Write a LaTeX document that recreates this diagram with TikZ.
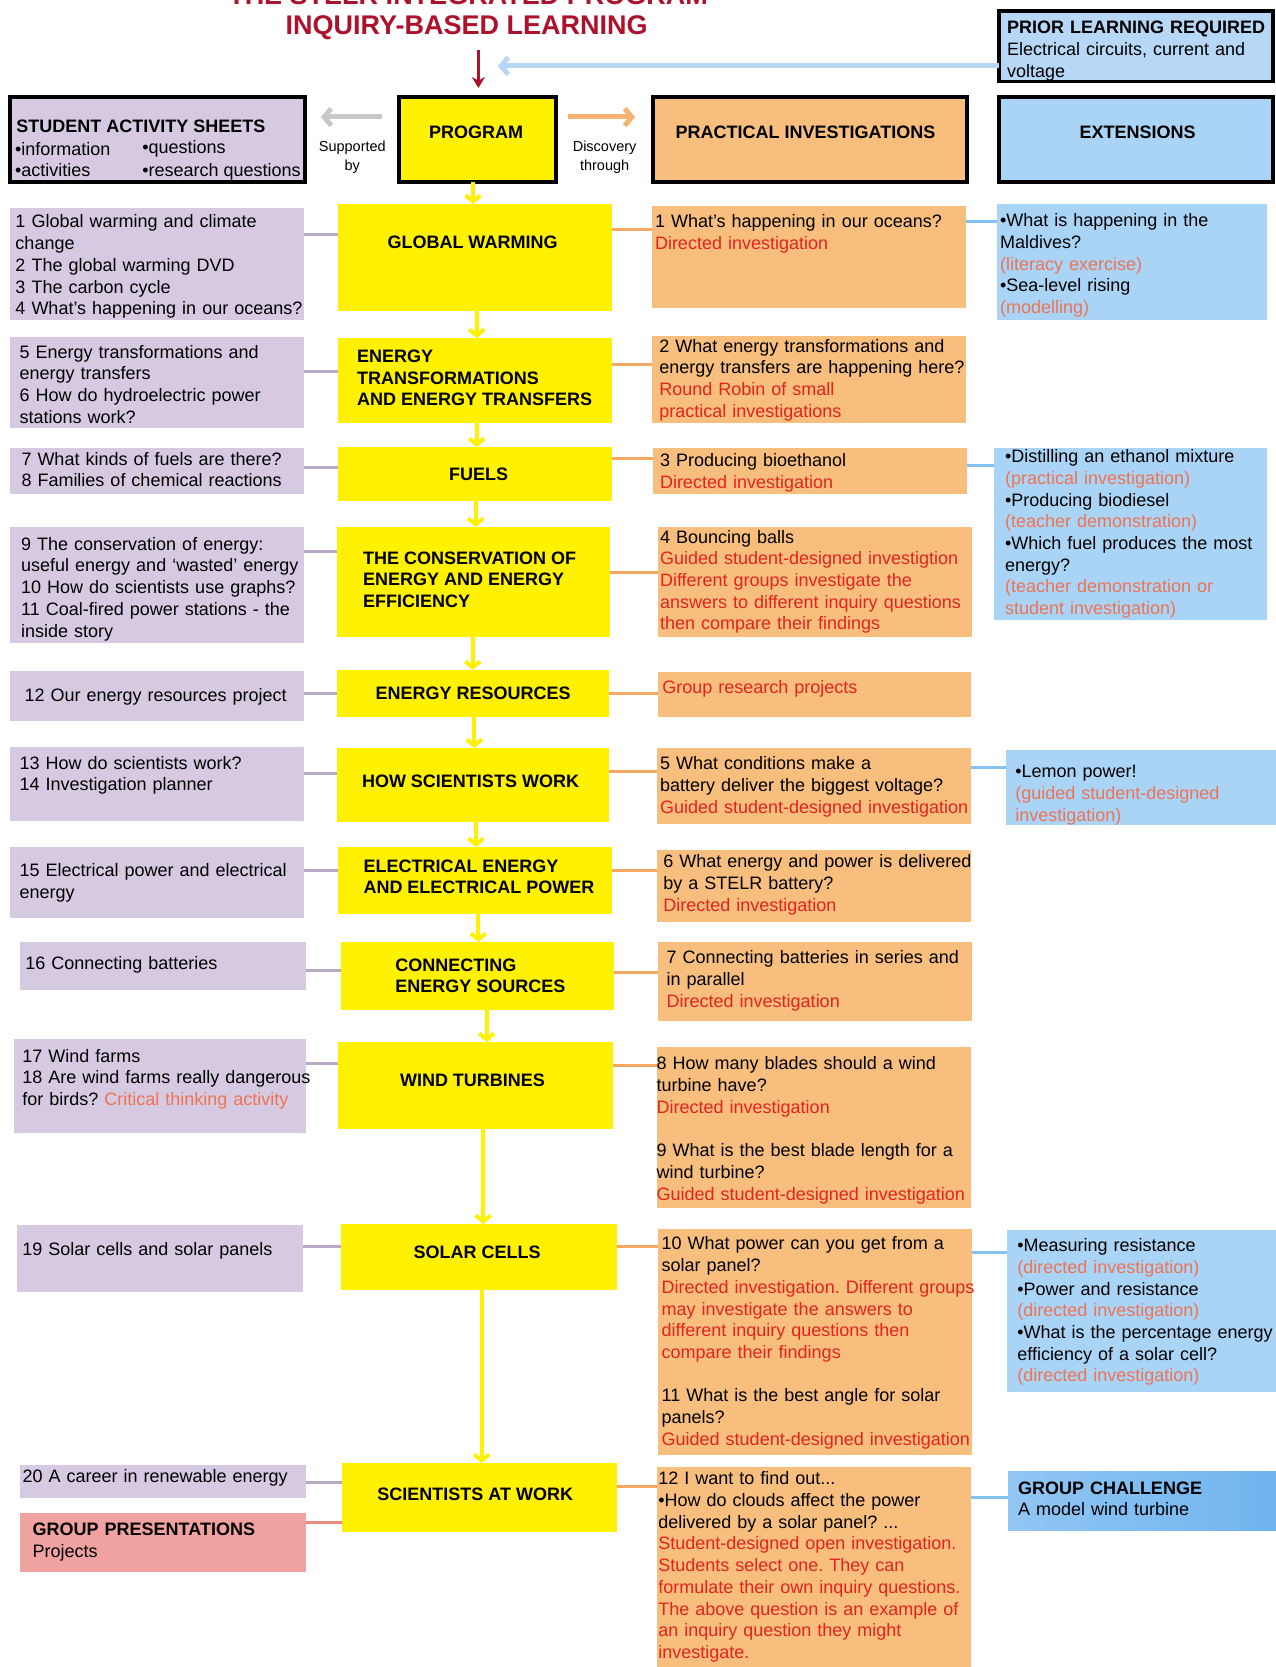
\documentclass[tikz,border=0pt]{standalone}
\usepackage{fontspec}
\setmainfont{Liberation Sans}
\usetikzlibrary{arrows.meta,fit}
\definecolor{lav}{RGB}{214,202,226}
\definecolor{lavline}{RGB}{182,170,198}
\definecolor{yel}{RGB}{255,241,0}
\definecolor{org}{RGB}{247,190,126}
\definecolor{orgline}{RGB}{245,168,98}
\definecolor{blu}{RGB}{170,212,246}
\definecolor{bluline}{RGB}{132,192,240}
\definecolor{bluleft}{RGB}{145,198,244}
\definecolor{bludark}{RGB}{112,180,238}
\definecolor{bluprior}{RGB}{182,216,246}
\definecolor{pinkbox}{RGB}{240,162,160}
\definecolor{pinkline}{RGB}{236,138,124}
\definecolor{redtxt}{RGB}{228,35,28}
\definecolor{saltxt}{RGB}{238,115,85}
\definecolor{titlered}{RGB}{172,18,44}
\definecolor{grayarrow}{RGB}{200,200,200}
\definecolor{orgarrow}{RGB}{246,178,112}
\newcommand{\rtx}[1]{\textcolor{redtxt}{#1}}
\newcommand{\stx}[1]{\textcolor{saltxt}{#1}}
\frenchspacing
\begin{document}
\begin{tikzpicture}[x=1pt,y=-1pt,
 bx/.style={inner sep=0pt,outer sep=0pt},
 hbx/.style={bx,draw=black,line width=3.5pt},
 tx/.style={anchor=north west,inner sep=0pt,outer sep=0pt,align=left,text width=330pt,font=\fontsize{18}{21.7}\selectfont\frenchspacing},
 pt/.style={anchor=base west,inner sep=0pt,outer sep=0pt,font=\fontsize{18}{21.7}\selectfont},
 bt/.style={inner sep=0pt,outer sep=0pt,align=left,font=\fontsize{18}{21.4}\selectfont\bfseries},
 lcon/.style={draw=lavline,line width=3pt},
 ocon/.style={draw=orgline,line width=3pt},
 bcon/.style={draw=bluline,line width=3pt},
 yarr/.style={draw=yel,line width=4pt,-{Straight Barb[length=6pt,width=15pt]}}
]
\useasboundingbox (0,0) rectangle (1276,1667);
\fill[white] (0,0) rectangle (1276,1667);

% ---------- title ----------
\node[anchor=base,inner sep=0pt,text=titlered,font=\fontsize{27}{30}\selectfont\bfseries] (title0) at (468,4.5) {THE STELR INTEGRATED PROGRAM};
\node[anchor=base,inner sep=0pt,text=titlered,font=\fontsize{27}{30}\selectfont\bfseries] (title) at (466.6,35) {INQUIRY-BASED LEARNING};

% ---------- header boxes ----------
\node[hbx,fill=lav,fit={(10,97)(305,182)}] (sas) {};
\node[hbx,fill=yel,fit={(399,97)(556,182)}] (prog) {};
\node[hbx,fill=org,fit={(653,97)(967,182)}] (prac) {};
\node[hbx,fill=blu,fit={(999,97)(1273,182)}] (ext) {};
\node[hbx,fill=bluprior,fit={(999,11)(1273,81.5)}] (prior) {};

% ---------- left column ----------
\node[bx,fill=lav,fit={(10,208)(304,320)}] (l1) {};
\node[bx,fill=lav,fit={(10,337)(304,428)}] (l2) {};
\node[bx,fill=lav,fit={(10,448)(304,494)}] (l3) {};
\node[bx,fill=lav,fit={(10,527)(304,643)}] (l4) {};
\node[bx,fill=lav,fit={(10,671)(304,721)}] (l5) {};
\node[bx,fill=lav,fit={(10,747)(304,821)}] (l6) {};
\node[bx,fill=lav,fit={(10,847)(304,918)}] (l7) {};
\node[bx,fill=lav,fit={(19.6,942)(306,990)}] (l8) {};
\node[bx,fill=lav,fit={(13.5,1039)(306,1133)}] (l9) {};
\node[bx,fill=lav,fit={(17,1225)(303,1292)}] (l10) {};
\node[bx,fill=lav,fit={(20.4,1465)(306,1498)}] (l11) {};
\node[bx,fill=pinkbox,fit={(20.4,1513)(306,1572)}] (gp) {};

% ---------- program column ----------
\node[bx,fill=yel,fit={(338,204)(612,311)}] (y1) {};
\node[bx,fill=yel,fit={(338,338)(612,423)}] (y2) {};
\node[bx,fill=yel,fit={(338,447)(612,501)}] (y3) {};
\node[bx,fill=yel,fit={(337,527)(610,637)}] (y4) {};
\node[bx,fill=yel,fit={(337,670)(609,717)}] (y5) {};
\node[bx,fill=yel,fit={(337,748)(609,822)}] (y6) {};
\node[bx,fill=yel,fit={(338,847)(612,914)}] (y7) {};
\node[bx,fill=yel,fit={(341,942)(614,1010)}] (y8) {};
\node[bx,fill=yel,fit={(338,1042)(613,1129)}] (y9) {};
\node[bx,fill=yel,fit={(341,1224)(617,1290)}] (y10) {};
\node[bx,fill=yel,fit={(342,1463)(617,1532)}] (y11) {};

% ---------- practical column ----------
\node[bx,fill=org,fit={(652,206)(966,308)}] (o1) {};
\node[bx,fill=org,fit={(652,336)(966,423)}] (o2) {};
\node[bx,fill=org,fit={(653,448)(967,494)}] (o3) {};
\node[bx,fill=org,fit={(658,527)(972,637)}] (o4) {};
\node[bx,fill=org,fit={(658,672)(971,717)}] (o5) {};
\node[bx,fill=org,fit={(657,748)(971,824)}] (o6) {};
\node[bx,fill=org,fit={(657,850)(971,922)}] (o7) {};
\node[bx,fill=org,fit={(658,942)(972,1021)}] (o8) {};
\node[bx,fill=org,fit={(657,1047)(971,1208)}] (o9) {};
\node[bx,fill=org,fit={(658,1229)(972,1455)}] (o10) {};
\node[bx,fill=org,fit={(657,1467)(971,1667)}] (o11) {};

% ---------- extensions column ----------
\node[bx,fill=blu,fit={(997,204)(1267,320)}] (b1) {};
\node[bx,fill=blu,fit={(994,448)(1267,620)}] (b2) {};
\node[bx,fill=blu,fit={(1006,750)(1276,825)}] (b3) {};
\node[bx,fill=blu,fit={(1007,1230)(1276,1392)}] (b4) {};
\node[bx,left color=bluleft,right color=bludark,fit={(1008,1471)(1276,1530)}] (b5) {};

% ---------- connectors ----------
\draw[lcon] (l1.east |- 0,234) -- (y1.west |- 0,234);
\draw[lcon] (l2.east |- 0,371) -- (y2.west |- 0,371);
\draw[lcon] (l3.east |- 0,467) -- (y3.west |- 0,467);
\draw[lcon] (l4.east |- 0,551.5) -- (y4.west |- 0,551.5);
\draw[lcon] (l5.east |- 0,693) -- (y5.west |- 0,693);
\draw[lcon] (l6.east |- 0,773.5) -- (y6.west |- 0,773.5);
\draw[lcon] (l7.east |- 0,870) -- (y7.west |- 0,870);
\draw[lcon] (l8.east |- 0,970) -- (y8.west |- 0,970);
\draw[lcon] (l9.east |- 0,1063) -- (y9.west |- 0,1063);
\draw[lcon] (l10.east |- 0,1246) -- (y10.west |- 0,1246);
\draw[lcon] (l11.east |- 0,1482) -- (y11.west |- 0,1482);
\draw[draw=pinkline,line width=3pt] (gp.east |- 0,1522) -- (y11.west |- 0,1522);

\draw[ocon] (y1.east |- 0,229) -- (o1.west |- 0,229);
\draw[ocon] (y2.east |- 0,364) -- (o2.west |- 0,364);
\draw[ocon] (y3.east |- 0,458) -- (o3.west |- 0,458);
\draw[ocon] (y4.east |- 0,572) -- (o4.west |- 0,572);
\draw[ocon] (y5.east |- 0,693) -- (o5.west |- 0,693);
\draw[ocon] (y6.east |- 0,771) -- (o6.west |- 0,771);
\draw[ocon] (y7.east |- 0,870) -- (o7.west |- 0,870);
\draw[ocon] (y8.east |- 0,972) -- (o8.west |- 0,972);
\draw[ocon] (y9.east |- 0,1065) -- (o9.west |- 0,1065);
\draw[ocon] (y10.east |- 0,1246) -- (o10.west |- 0,1246);
\draw[ocon] (y11.east |- 0,1486) -- (o11.west |- 0,1486);

\draw[bcon] (o1.east |- 0,221.5) -- (b1.west |- 0,221.5);
\draw[bcon] (o3.east |- 0,465.5) -- (b2.west |- 0,465.5);
\draw[bcon] (o6.east |- 0,767.5) -- (b3.west |- 0,767.5);
\draw[bcon] (o10.east |- 0,1252) -- (b4.west |- 0,1252);
\draw[bcon] (o11.east |- 0,1497) -- (b5.west |- 0,1497);

% ---------- program flow arrows ----------
\draw[yarr] (prog.south -| 473,0) -- (y1.north -| 473,0);
\draw[yarr] (y1.south -| 476.7,0) -- (y2.north -| 476.7,0);
\draw[yarr] (y2.south -| 476.7,0) -- (y3.north -| 476.7,0);
\draw[yarr] (y3.south -| 475.7,0) -- (y4.north -| 475.7,0);
\draw[yarr] (y4.south -| 472.7,0) -- (y5.north -| 472.7,0);
\draw[yarr] (y5.south -| 474.3,0) -- (y6.north -| 474.3,0);
\draw[yarr] (y6.south -| 476,0) -- (y7.north -| 476,0);
\draw[yarr] (y7.south -| 478.3,0) -- (y8.north -| 478.3,0);
\draw[yarr] (y8.south -| 486.7,0) -- (y9.north -| 486.7,0);
\draw[yarr] (y9.south -| 483.3,0) -- (y10.north -| 483.3,0);
\draw[yarr] (y10.south -| 481.7,0) -- (y11.north -| 481.7,0);

% ---------- header arrows ----------
\coordinate (ga1) at (382,117);
\coordinate (ga2) at (321,117);
\coordinate (oa1) at (568,117);
\coordinate (oa2) at (635,117);
\coordinate (pa) at (498,66);
\coordinate (ra1) at (478.4,50);
\coordinate (ra2) at (478.4,88);
\draw[draw=grayarrow,line width=5pt,-{Straight Barb[length=7pt,width=17pt]}] (ga1) -- (ga2);
\draw[draw=orgarrow,line width=5pt,-{Straight Barb[length=7pt,width=17pt]}] (oa1) -- (oa2);
\draw[draw=bluprior,line width=5pt,-{Straight Barb[length=7pt,width=17pt]}] (prior.west |- pa) -- (pa);
\draw[draw=titlered,line width=3.5pt,-{Stealth[length=11pt,width=13pt]}] (ra1) -- (ra2);

% ---------- header texts ----------
\node[bt,anchor=west] (sast) at (16.3,126.7) {STUDENT ACTIVITY SHEETS};
\node[pt] (sas1) at (15,155.5) {•information};
\node[pt] (sas2) at (142.4,153.5) {•questions};
\node[pt] (sas3) at (15,176.5) {•activities};
\node[pt] (sas4) at (142.4,176.5) {•research questions};
\node[bt] (progt) at (476,132.7) {PROGRAM};
\node[bt] (pract) at (805.5,132.7) {PRACTICAL INVESTIGATIONS};
\node[bt] (extt) at (1137.5,132.7) {EXTENSIONS};
\node[tx] (priort) at (1007,18.5) {\strut\textbf{PRIOR LEARNING REQUIRED}\\ Electrical circuits, current and\\ voltage};
\node[inner sep=0pt,align=center,font=\fontsize{14.5}{19.3}\selectfont] (supp) at (352.3,157) {Supported\\ by};
\node[inner sep=0pt,align=center,font=\fontsize{14.5}{19.3}\selectfont] (disc) at (604.6,157) {Discovery\\ through};

% ---------- left texts ----------
\node[tx] (l1t) at (15.5,212.8) {\strut 1 Global warming and climate\\ change\\ 2 The global warming DVD\\ 3 The carbon cycle\\ 4 What’s happening in our oceans?};
\node[tx] (l2t) at (19.6,343.1) {\strut 5 Energy transformations and\\ energy transfers\\ 6 How do hydroelectric power\\ stations work?};
\node[tx] (l3t) at (21.5,450.1) {\strut 7 What kinds of fuels are there?\\ 8 Families of chemical reactions};
\node[tx] (l4t) at (21.2,535.1) {\strut 9 The conservation of energy:\\ useful energy and ‘wasted’ energy\\ 10 How do scientists use graphs?\\ 11 Coal-fired power stations - the\\ inside story};
\node[tx] (l5t) at (24.5,686.5) {\strut 12 Our energy resources project};
\node[tx] (l6t) at (19.6,754.1) {\strut 13 How do scientists work?\\ 14 Investigation planner};
\node[tx] (l7t) at (19.6,861.5) {\strut 15 Electrical power and electrical\\ energy};
\node[tx] (l8t) at (25.3,954.1) {\strut 16 Connecting batteries};
\node[tx] (l9t) at (22.4,1046.8) {\strut 17 Wind farms\\ 18 Are wind farms really dangerous\\ for birds? \stx{Critical thinking activity}};
\node[tx] (l10t) at (22.4,1239.8) {\strut 19 Solar cells and solar panels};
\node[tx] (l11t) at (22.5,1467.5) {\strut 20 A career in renewable energy};
\node[tx] (gpt) at (32.7,1520.5) {\strut\textbf{GROUP PRESENTATIONS}\\ Projects};

% ---------- program texts ----------
\node[bt] (y1t) at (472.5,242.8) {GLOBAL WARMING};
\node[bt] (y2t) at (474.7,378.2) {ENERGY\\ TRANSFORMATIONS\\ AND ENERGY TRANSFERS};
\node[bt] (y3t) at (478.5,474) {FUELS};
\node[bt] (y4t) at (469.7,579.7) {THE CONSERVATION OF\\ ENERGY AND ENERGY\\ EFFICIENCY};
\node[bt] (y5t) at (473.2,693) {ENERGY RESOURCES};
\node[bt] (y6t) at (470.5,780.8) {HOW SCIENTISTS WORK};
\node[bt] (y7t) at (479,876.8) {ELECTRICAL ENERGY\\ AND ELECTRICAL POWER};
\node[bt] (y8t) at (480.5,976) {CONNECTING\\ ENERGY SOURCES};
\node[bt] (y9t) at (472.5,1080) {WIND TURBINES};
\node[bt] (y10t) at (477.2,1252.2) {SOLAR CELLS};
\node[bt] (y11t) at (475.3,1494.4) {SCIENTISTS AT WORK};

% ---------- practical texts ----------
\node[tx] (o1t) at (655,212.3) {\strut 1 What’s happening in our oceans?\\ \rtx{Directed investigation}};
\node[tx] (o2t) at (659.3,336.9) {\strut 2 What energy transformations and\\ energy transfers are happening here?\\ \rtx{Round Robin of small}\\ \rtx{practical investigations}};
\node[tx] (o3t) at (660,451.6) {\strut 3 Producing bioethanol\\ \rtx{Directed investigation}};
\node[tx] (o4t) at (660,528) {\strut 4 Bouncing balls\\ \rtx{Guided student-designed investigtion}\\ \rtx{Different groups investigate the}\\ \rtx{answers to different inquiry questions}\\ \rtx{then compare their findings}};
\node[tx] (o5t) at (662.3,678.1) {\strut\rtx{Group research projects}};
\node[tx] (o6t) at (660,754.6) {\strut 5 What conditions make a\\ battery deliver the biggest voltage?\\ \rtx{Guided student-designed investigation}};
\node[tx] (o7t) at (663.3,852.8) {\strut 6 What energy and power is delivered\\ by a STELR battery?\\ \rtx{Directed investigation}};
\node[tx] (o8t) at (666.7,948.5) {\strut 7 Connecting batteries in series and\\ in parallel\\ \rtx{Directed investigation}};
\node[tx] (o9t) at (656.7,1054.7) {\strut 8 How many blades should a wind\\ turbine have?\\ \rtx{Directed investigation}\\[21.7pt] 9 What is the best blade length for a\\ wind turbine?\\ \rtx{Guided student-designed investigation}};
\node[tx] (o10t) at (661.7,1234.7) {\strut 10 What power can you get from a\\ solar panel?\\ \rtx{Directed investigation. Different groups}\\ \rtx{may investigate the answers to}\\ \rtx{different inquiry questions then}\\ \rtx{compare their findings}\\[21.7pt] 11 What is the best angle for solar\\ panels?\\ \rtx{Guided student-designed investigation}};
\node[tx] (o11t) at (658.3,1469.6) {\strut 12 I want to find out...\\ •How do clouds affect the power\\ delivered by a solar panel? ...\\ \rtx{Student-designed open investigation.}\\ \rtx{Students select one. They can}\\ \rtx{formulate their own inquiry questions.}\\ \rtx{The above question is an example of}\\ \rtx{an inquiry question they might}\\ \rtx{investigate.}};

% ---------- extension texts ----------
\node[tx] (b1t) at (1000,211.5) {\strut •What is happening in the\\ Maldives?\\ \stx{(literacy exercise)}\\ •Sea-level rising\\ \stx{(modelling)}};
\node[tx] (b2t) at (1005,447.5) {\strut •Distilling an ethanol mixture\\ \stx{(practical investigation)}\\ •Producing biodiesel\\ \stx{(teacher demonstration)}\\ •Which fuel produces the most\\ energy?\\ \stx{(teacher demonstration or}\\ \stx{student investigation)}};
\node[tx] (b3t) at (1015.3,762.5) {\strut •Lemon power!\\ \stx{(guided student-designed}\\ \stx{investigation)}};
\node[tx] (b4t) at (1017.3,1236.5) {\strut •Measuring resistance\\ \stx{(directed investigation)}\\ •Power and resistance\\ \stx{(directed investigation)}\\ •What is the percentage energy\\ efficiency of a solar cell?\\ \stx{(directed investigation)}};
\node[tx] (b5t) at (1018,1478.9) {\strut\textbf{GROUP CHALLENGE}\\ A model wind turbine};
\end{tikzpicture}
\end{document}
